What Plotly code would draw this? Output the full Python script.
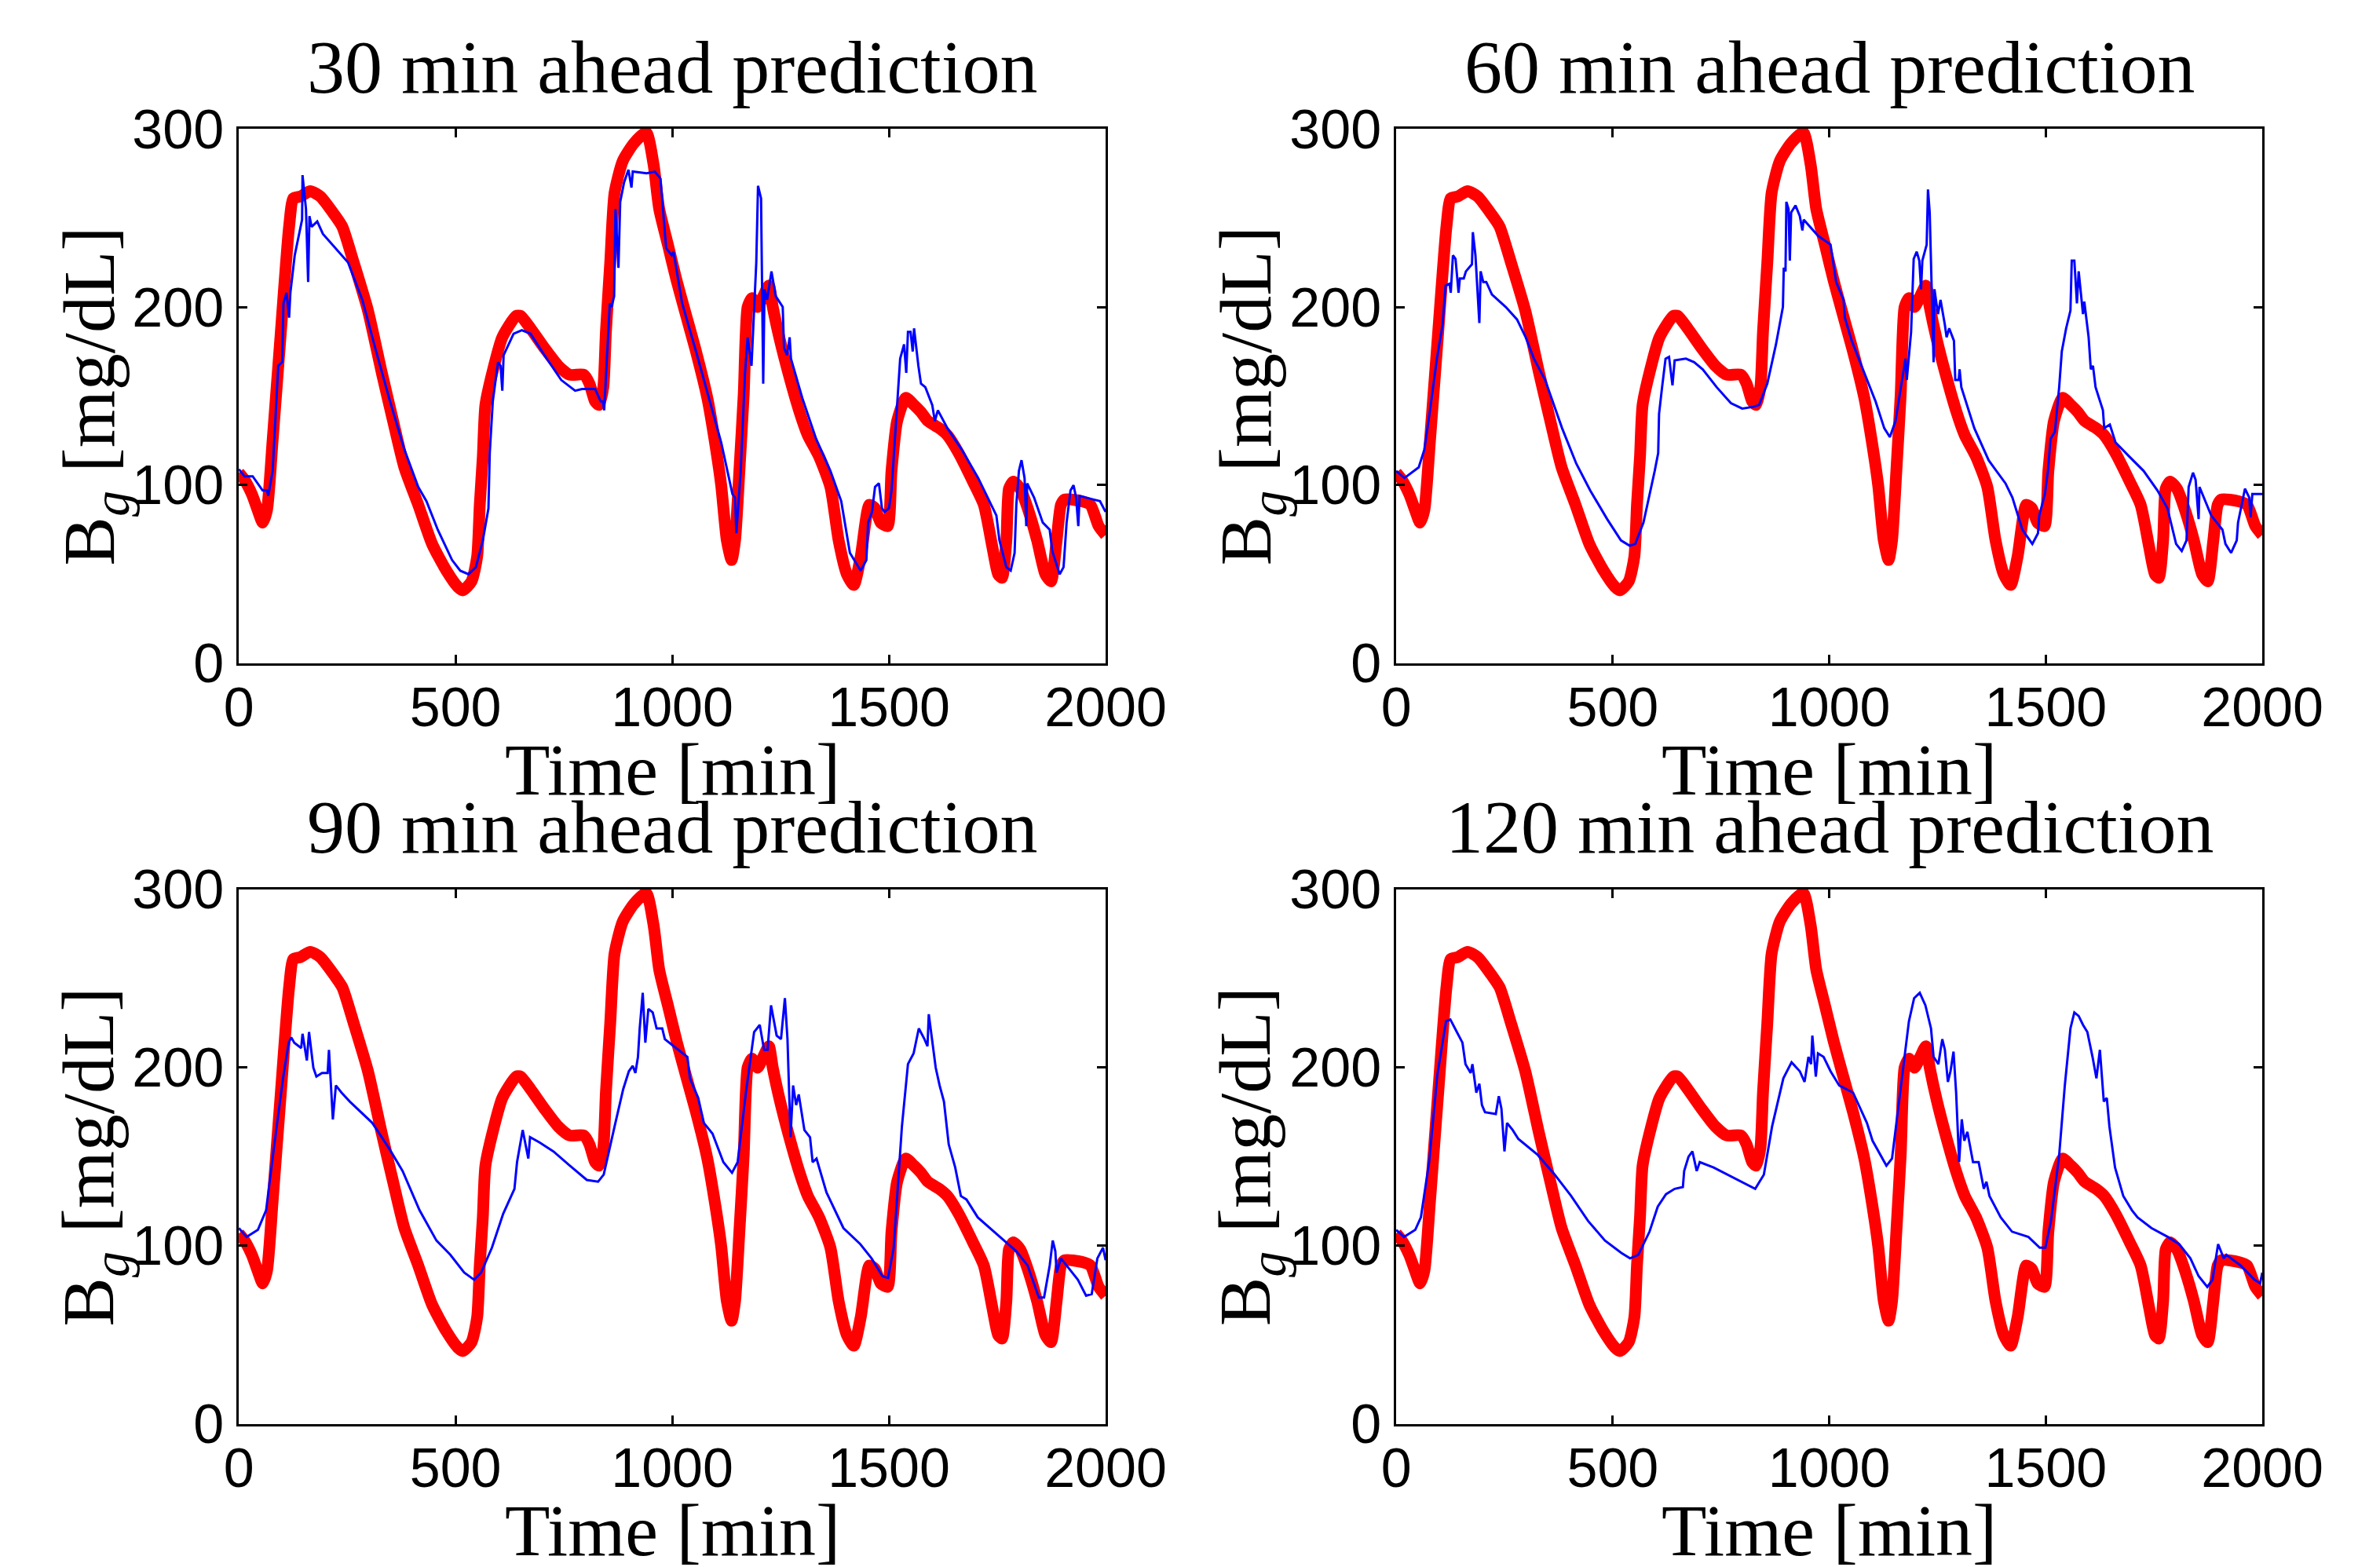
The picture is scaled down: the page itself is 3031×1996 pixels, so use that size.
import plotly.graph_objects as go

# measured glucose (same red curve in every panel)
t_actual = [0, 13, 30, 45, 55, 65, 78, 97, 116, 126, 142, 165, 188, 220, 239, 265, 298, 330, 356, 382,
            414, 446, 479, 505, 517, 537, 550, 556, 563, 569, 589, 608, 640, 650, 673, 705, 737, 763, 796, 809,
            822, 831, 841, 847, 857, 867, 886, 912, 940, 957, 970, 990, 1010, 1029, 1055, 1081, 1100, 1113, 1126, 1137,
            1145, 1155, 1165, 1174, 1184, 1197, 1210, 1223, 1232, 1248, 1268, 1294, 1313, 1339, 1365, 1384, 1403, 1419, 1435, 1455,
            1468, 1481, 1497, 1506, 1519, 1539, 1558, 1574, 1590, 1616, 1635, 1661, 1694, 1719, 1739, 1752, 1761, 1771, 1777, 1787,
            1803, 1823, 1842, 1861, 1874, 1887, 1897, 1906, 1945, 1965, 1984, 2000]
bg_actual = [107, 103, 95, 85, 79, 86, 125, 186, 245, 261, 262, 265, 262, 252, 245, 225, 198, 163, 136, 110,
             89, 67, 52, 43, 41, 46, 60, 89, 116, 145, 167, 183, 195, 195, 188, 177, 167, 162, 162, 157,
             147, 145, 155, 186, 225, 264, 282, 292, 298, 280, 255, 235, 215, 198, 175, 149, 122, 100, 69, 58,
             69, 108, 151, 200, 205, 200, 206, 212, 200, 182, 163, 141, 128, 116, 99, 69, 50, 44, 60, 89,
             87, 79, 77, 108, 136, 149, 145, 141, 136, 132, 128, 118, 102, 89, 65, 50, 48, 69, 98, 102,
             98, 85, 69, 50, 46, 69, 89, 92, 91, 89, 77, 72]

# 30 min ahead prediction
t_30 = [0, 13, 32, 55, 65, 68, 78, 91, 100, 103, 110, 116, 119, 129, 146, 147, 155, 160, 163, 168,
        181, 194, 252, 285, 317, 349, 382, 414, 433, 459, 492, 511, 530, 547, 563, 576, 579, 586, 598, 604,
        608, 611, 634, 653, 673, 705, 744, 776, 792, 822, 835, 840, 843, 851, 856, 860, 866, 869, 876, 880,
        889, 899, 906, 909, 941, 960, 973, 986, 999, 1003, 1023, 1055, 1087, 1113, 1139, 1145, 1148, 1158, 1168, 1174,
        1183, 1187, 1194, 1198, 1205, 1210, 1213, 1219, 1229, 1239, 1255, 1258, 1265, 1271, 1274, 1300, 1332, 1365, 1390, 1410,
        1435, 1448, 1452, 1461, 1468, 1477, 1484, 1490, 1500, 1506, 1526, 1535, 1540, 1544, 1550, 1555, 1558, 1568, 1574, 1584,
        1600, 1606, 1613, 1635, 1668, 1706, 1732, 1748, 1755, 1771, 1781, 1790, 1794, 1800, 1806, 1813, 1817, 1819, 1835, 1855,
        1871, 1877, 1894, 1903, 1910, 1919, 1926, 1932, 1937, 1940, 1971, 1987, 2000]
bg_30 = [109, 105, 105, 97, 97, 94, 108, 167, 169, 202, 208, 194, 208, 229, 249, 274, 255, 214, 251, 245,
         248, 241, 225, 204, 175, 147, 120, 99, 91, 75, 58, 52, 50, 54, 69, 87, 118, 147, 169, 167,
         153, 173, 185, 187, 185, 173, 159, 153, 154, 154, 147, 147, 142, 177, 202, 200, 206, 255, 222, 259,
         270, 277, 267, 276, 275, 276, 272, 233, 229, 231, 202, 175, 147, 124, 95, 93, 73, 108, 163, 183,
         167, 190, 225, 268, 261, 157, 210, 204, 220, 206, 200, 177, 173, 183, 171, 149, 126, 108, 91, 62,
         52, 58, 79, 85, 99, 101, 87, 85, 87, 97, 171, 179, 163, 186, 186, 175, 188, 167, 157, 155,
         145, 136, 142, 132, 120, 104, 91, 83, 69, 54, 52, 62, 89, 108, 114, 104, 77, 101, 93, 79,
         75, 63, 50, 54, 79, 97, 100, 93, 77, 94, 92, 91, 85]

# 60 min ahead prediction
t_60 = [0, 19, 52, 65, 78, 94, 107, 114, 123, 126, 131, 137, 144, 147, 156, 161, 175, 177, 183, 192,
        195, 201, 208, 221, 253, 279, 299, 318, 344, 383, 416, 448, 487, 519, 539, 552, 571, 584, 597, 605,
        607, 614, 622, 630, 638, 643, 669, 688, 708, 740, 773, 799, 825, 838, 857, 877, 893, 895, 899, 901,
        906, 909, 912, 922, 932, 938, 941, 974, 1003, 1016, 1033, 1036, 1052, 1081, 1107, 1127, 1140, 1153, 1166, 1176,
        1179, 1189, 1195, 1202, 1208, 1212, 1215, 1225, 1228, 1232, 1241, 1243, 1251, 1257, 1267, 1271, 1277, 1288, 1291, 1299,
        1301, 1305, 1335, 1368, 1407, 1423, 1446, 1469, 1482, 1485, 1498, 1505, 1511, 1521, 1531, 1537, 1547, 1557, 1560, 1566,
        1572, 1576, 1586, 1589, 1599, 1604, 1609, 1615, 1632, 1635, 1648, 1661, 1693, 1726, 1758, 1781, 1801, 1814, 1825, 1830,
        1840, 1846, 1853, 1855, 1882, 1908, 1915, 1928, 1941, 1944, 1960, 1970, 1973, 1977, 2000]
bg_60 = [108, 104, 110, 120, 142, 171, 190, 212, 213, 208, 229, 227, 208, 216, 216, 220, 224, 242, 229, 191,
         220, 214, 214, 207, 200, 193, 183, 171, 159, 132, 112, 97, 81, 69, 66, 67, 79, 93, 108, 118,
         140, 155, 171, 172, 156, 170, 171, 169, 165, 155, 146, 143, 144, 145, 157, 179, 200, 222, 220, 259,
         255, 226, 253, 257, 251, 243, 249, 240, 235, 214, 204, 194, 181, 163, 147, 132, 127, 136, 157, 171,
         159, 186, 227, 231, 226, 210, 226, 235, 266, 253, 169, 210, 196, 204, 190, 183, 188, 181, 159, 159,
         165, 155, 132, 114, 101, 93, 75, 67, 73, 83, 95, 108, 126, 130, 155, 175, 188, 198, 226, 226,
         202, 220, 196, 203, 183, 165, 167, 155, 142, 132, 134, 124, 116, 108, 97, 87, 67, 63, 69, 99,
         107, 103, 81, 99, 83, 75, 67, 62, 69, 79, 98, 93, 82, 95, 95]

# 90 min ahead prediction
t_90 = [0, 18, 44, 63, 82, 102, 115, 121, 128, 144, 147, 157, 162, 172, 179, 192, 205, 208, 217, 224,
        237, 256, 308, 346, 378, 417, 456, 488, 520, 543, 559, 584, 610, 636, 642, 655, 668, 672, 694, 726,
        764, 803, 829, 842, 867, 887, 900, 909, 915, 921, 925, 932, 938, 945, 955, 964, 977, 983, 1009, 1035,
        1041, 1060, 1073, 1093, 1118, 1138, 1151, 1170, 1189, 1202, 1212, 1220, 1228, 1241, 1251, 1260, 1266, 1273, 1279, 1286,
        1292, 1305, 1318, 1324, 1333, 1356, 1395, 1434, 1460, 1485, 1498, 1511, 1530, 1544, 1557, 1569, 1582, 1589, 1592, 1601,
        1608, 1617, 1627, 1638, 1653, 1666, 1679, 1705, 1743, 1794, 1820, 1846, 1858, 1871, 1878, 1884, 1887, 1897, 1936, 1955,
        1968, 1981, 1994, 2000]
bg_90 = [110, 105, 109, 120, 157, 194, 214, 217, 214, 211, 219, 204, 220, 200, 195, 197, 197, 210, 171, 190,
         186, 181, 169, 155, 142, 120, 103, 95, 85, 81, 85, 99, 118, 132, 147, 165, 149, 161, 158, 153,
         145, 137, 136, 140, 167, 188, 198, 201, 197, 206, 222, 242, 214, 233, 231, 222, 222, 216, 211, 206,
         194, 183, 169, 163, 147, 141, 147, 186, 220, 224, 210, 210, 235, 218, 216, 239, 216, 161, 190, 179,
         185, 165, 161, 147, 149, 130, 110, 101, 93, 83, 82, 99, 167, 202, 208, 222, 216, 212, 230, 212,
         200, 190, 181, 157, 144, 128, 126, 116, 108, 97, 89, 71, 71, 89, 103, 97, 85, 93, 81, 72,
         73, 93, 99, 92]

# 120 min ahead prediction
t_120 = [0, 18, 44, 57, 76, 95, 115, 125, 140, 153, 160, 172, 176, 185, 192, 198, 205, 230, 237, 243,
         250, 256, 269, 282, 327, 366, 404, 443, 482, 520, 540, 559, 585, 604, 623, 643, 662, 665, 675, 684,
         694, 701, 733, 765, 803, 829, 849, 868, 894, 913, 932, 943, 952, 958, 961, 969, 974, 987, 1003, 1023,
         1055, 1068, 1087, 1100, 1119, 1132, 1145, 1164, 1184, 1196, 1209, 1222, 1235, 1241, 1252, 1261, 1267, 1274, 1280, 1287,
         1293, 1300, 1306, 1312, 1319, 1332, 1345, 1357, 1363, 1370, 1396, 1422, 1460, 1486, 1499, 1512, 1531, 1544, 1557, 1566,
         1576, 1586, 1596, 1608, 1617, 1625, 1634, 1641, 1647, 1660, 1679, 1699, 1712, 1744, 1782, 1808, 1834, 1853, 1873, 1885,
         1898, 1911, 1917, 1950, 1982, 1995, 2000]
bg_120 = [109, 105, 109, 116, 147, 196, 226, 227, 220, 214, 202, 197, 202, 186, 191, 179, 175, 174, 184, 177,
          153, 169, 165, 160, 151, 140, 128, 114, 103, 96, 93, 95, 108, 122, 129, 132, 133, 142, 150, 153,
          142, 147, 144, 140, 135, 132, 140, 167, 194, 203, 198, 192, 206, 202, 218, 195, 208, 206, 198, 190,
          186, 179, 169, 159, 151, 145, 149, 186, 226, 239, 242, 235, 222, 206, 202, 216, 210, 192, 198, 209,
          186, 147, 171, 159, 164, 147, 147, 132, 136, 128, 116, 108, 105, 99, 99, 114, 151, 190, 222, 231,
          229, 224, 220, 206, 194, 210, 181, 183, 167, 144, 128, 120, 116, 110, 105, 101, 93, 83, 77, 81,
          101, 93, 95, 89, 81, 79, 85]

titles = ["30 min ahead prediction", "60 min ahead prediction",
          "90 min ahead prediction", "120 min ahead prediction"]
preds = [(t_30, bg_30), (t_60, bg_60), (t_90, bg_90), (t_120, bg_120)]

x_ticks = [0, 500, 1000, 1500, 2000]
y_ticks = [0, 100, 200, 300]

# page body has an 8px margin, so shift everything back a little
col_dom = [[0.0977, 0.4619], [0.5840, 0.9479]]
row_dom = [[0.5807, 0.9218], [0.0952, 0.4364]]

fig = go.Figure()

axis_style = dict(showline=True, linecolor="black", linewidth=3, mirror="ticks",
                  ticks="inside", ticklen=11, tickwidth=3, tickcolor="black",
                  showgrid=False, zeroline=False,
                  tickfont=dict(family="Liberation Sans, Arial", size=70, color="black"))

serif = "Liberation Serif, Times New Roman, serif"
annotations = []

for i in range(4):
    r, c = divmod(i, 2)
    n = "" if i == 0 else str(i + 1)
    fig.add_trace(go.Scatter(x=t_actual, y=bg_actual, mode="lines",
                             line=dict(color="#ff0000", width=15, shape="spline", smoothing=0.6),
                             xaxis="x" + n, yaxis="y" + n, showlegend=False))
    fig.add_trace(go.Scatter(x=preds[i][0], y=preds[i][1], mode="lines",
                             line=dict(color="#0000ff", width=3),
                             xaxis="x" + n, yaxis="y" + n, showlegend=False))
    fig.layout["xaxis" + n] = dict(axis_style, domain=col_dom[c], range=[0, 2000],
                                   tickvals=x_ticks, anchor="y" + n, ticklabelstandoff=-7)
    fig.layout["yaxis" + n] = dict(axis_style, domain=row_dom[r], range=[0, 300],
                                   tickvals=y_ticks, anchor="x" + n, ticklabelstandoff=2)

    xmid = (col_dom[c][0] + col_dom[c][1]) / 2
    ymid = (row_dom[r][0] + row_dom[r][1]) / 2
    annotations.append(dict(text=titles[i], x=xmid, y=[0.961, 0.4763][r], xref="paper", yref="paper",
                            xanchor="center", yanchor="middle", showarrow=False,
                            font=dict(family=serif, size=96, color="black")))
    annotations.append(dict(text="Time [min]", x=xmid, y=[0.513, 0.0275][r], xref="paper", yref="paper",
                            xanchor="center", yanchor="middle", showarrow=False,
                            font=dict(family=serif, size=94, color="black")))
    annotations.append(dict(text="B<sub><i>g</i></sub> [mg/dL]", x=[0.0367, 0.5229][c], y=ymid,
                            xref="paper", yref="paper", xanchor="center", yanchor="middle",
                            textangle=-90, showarrow=False,
                            font=dict(family=serif, size=94, color="black")))

fig.update_layout(width=3031, height=1996,
                  margin=dict(l=0, r=0, t=0, b=0, autoexpand=False),
                  paper_bgcolor="white", plot_bgcolor="white",
                  annotations=annotations)

fig.write_html("out.html")
